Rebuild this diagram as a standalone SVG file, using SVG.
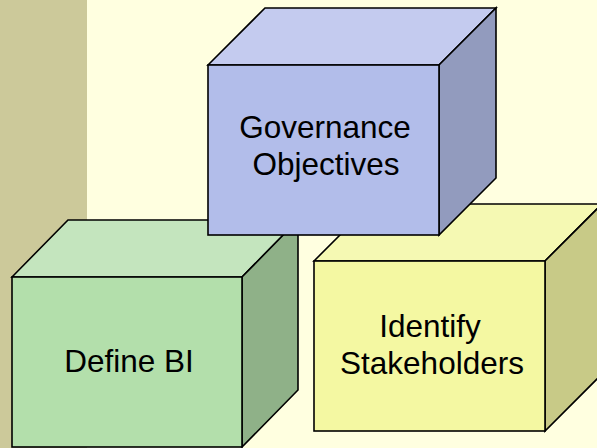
<svg xmlns="http://www.w3.org/2000/svg" width="597" height="448" viewBox="0 0 597 448">
<style>
.edge{stroke:#000;stroke-width:1.6;stroke-linejoin:miter}
.lbl{font-family:"Liberation Sans",Arial,sans-serif;font-size:31.5px;fill:#000;text-anchor:middle}
</style>
<rect x="0" y="0" width="597" height="448" fill="#FFFFE0"/>
<rect x="0" y="0" width="87" height="448" fill="#CCC99A"/>
<g id="identify-stakeholders">
<polygon class="edge" points="314,261 371,204 602,204 545,261" fill="#F5F9B3"/>
<polygon class="edge" points="545,261 602,204 602,374 545,431" fill="#C8CA87"/>
<rect class="edge" x="314" y="261" width="231" height="170" fill="#F4F8A2"/>
<text class="lbl" x="430" y="337">Identify</text>
<text class="lbl" x="432" y="374">Stakeholders</text>
</g>
<g id="define-bi">
<polygon class="edge" points="12,277 68,220 298,220 242,277" fill="#C4E5BE"/>
<polygon class="edge" points="242,277 298,220 298,390 242,447" fill="#8FB188"/>
<rect class="edge" x="12" y="277" width="230" height="170" fill="#B3DFAB"/>
<text class="lbl" x="129" y="372">Define BI</text>
</g>
<g id="governance-objectives">
<polygon class="edge" points="208,65 265,8 496,8 439,65" fill="#C4CBEF"/>
<polygon class="edge" points="439,65 496,8 496,178 439,235" fill="#929BBE"/>
<rect class="edge" x="208" y="65" width="231" height="170" fill="#B2BDEA"/>
<text class="lbl" x="325" y="138">Governance</text>
<text class="lbl" x="326" y="175">Objectives</text>
</g>
<g id="connectors"/>
</svg>
